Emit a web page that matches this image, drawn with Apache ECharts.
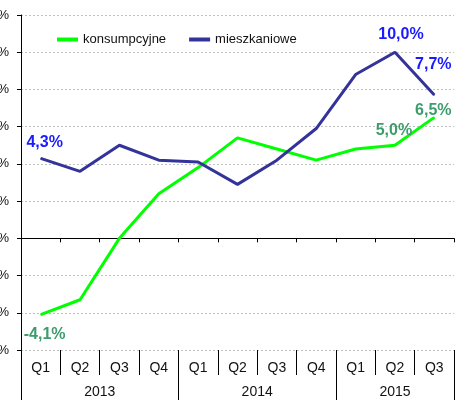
<!DOCTYPE html>
<html>
<head>
<meta charset="utf-8">
<script src="https://cdn.jsdelivr.net/npm/echarts@6/dist/echarts.min.js"></script>
<style>
  html, body { margin: 0; padding: 0; background: #fff; }
  #chart { width: 466px; height: 400px; }
</style>
</head>
<body>
<div id="chart"></div>
<script>
// dane
var kwartaly = ['Q1', 'Q2', 'Q3', 'Q4', 'Q1', 'Q2', 'Q3', 'Q4', 'Q1', 'Q2', 'Q3'];
var lata = ['2013', '2014', '2015'];
var konsumpcyjne = [-4.1, -3.3, 0.0, 2.4, 3.8, 5.4, 4.8, 4.2, 4.8, 5.0, 6.5];
var mieszkaniowe = [4.3, 3.6, 5.0, 4.2, 4.1, 2.9, 4.2, 5.9, 8.8, 10.0, 7.7];

var fmt = function (v) { return v.toFixed(1).replace('.', ',') + '%'; };

// etykiety tylko przy wybranych punktach
function zEtykietami(values, color, labels) {
  return values.map(function (v, i) {
    if (!labels[i]) return v;
    return {
      value: v,
      label: {
        show: true,
        position: labels[i].pos,
        offset: labels[i].off,
        color: color,
        fontWeight: 'bold',
        fontSize: 16,
        fontFamily: 'Liberation Sans, Arial, sans-serif',
        formatter: function (p) { return fmt(p.value); }
      }
    };
  });
}

var myChart = echarts.init(document.getElementById('chart'));
myChart.setOption({
  animation: false,
  textStyle: { fontFamily: 'Liberation Sans, Arial, sans-serif' },
  grid: { left: 21, right: 12, top: 15, bottom: 50, containLabel: false, outerBoundsMode: 'none' },
  legend: {
    left: 52,
    top: 28,
    icon: 'rect',
    itemWidth: 21,
    itemHeight: 4,
    itemGap: 23,
    textStyle: { fontSize: 13, color: '#111' },
    data: ['konsumpcyjne', 'mieszkaniowe']
  },
  xAxis: [
    {
      type: 'category',
      data: kwartaly,
      axisLine: { onZero: true, lineStyle: { color: '#000', width: 1 } },
      axisTick: { show: true, interval: 0, length: 4, lineStyle: { color: '#000' } },
      axisLabel: { show: false },
      splitLine: { show: false }
    },
    {
      type: 'category',
      data: kwartaly,
      position: 'bottom',
      axisLine: { show: false, onZero: false },
      axisTick: { show: true, interval: 0, length: 25, lineStyle: { color: '#000' } },
      axisLabel: { interval: 0, margin: 11, fontSize: 14, color: '#111' },
      splitLine: { show: false }
    },
    {
      type: 'value',
      min: 0,
      max: 11,
      position: 'bottom',
      offset: 25,
      axisLine: { show: false, onZero: false },
      axisTick: { show: true, customValues: [0, 4, 8, 11], length: 25, lineStyle: { color: '#000' } },
      axisLabel: {
        customValues: [2, 6, 9.5],
        margin: 10,
        fontSize: 14,
        color: '#111',
        formatter: function (v) {
          if (v === 2) return lata[0];
          if (v === 6) return lata[1];
          return lata[2];
        }
      },
      splitLine: { show: false }
    }
  ],
  yAxis: {
    type: 'value',
    min: -6,
    max: 12,
    interval: 2,
    axisLine: { show: true, onZero: false, lineStyle: { color: '#000' } },
    axisTick: { show: true, length: 4, lineStyle: { color: '#000' } },
    axisLabel: { margin: 12, fontSize: 13, color: '#111', formatter: '{value}%' },
    splitLine: { show: true, lineStyle: { color: '#c0c0c0', type: [2, 2] } }
  },
  series: [
    {
      name: 'konsumpcyjne',
      type: 'line',
      symbol: 'circle',
      symbolSize: 1,
      color: '#00ff00',
      lineStyle: { width: 3, color: '#00ff00' },
      data: zEtykietami(konsumpcyjne, '#3c9c6c', {
        0: { pos: 'bottom', off: [4, 6] },
        9: { pos: 'top', off: [-1, -1] },
        10: { pos: 'top', off: [-1, 7] }
      })
    },
    {
      name: 'mieszkaniowe',
      type: 'line',
      symbol: 'circle',
      symbolSize: 1,
      color: '#333399',
      lineStyle: { width: 3, color: '#333399' },
      data: zEtykietami(mieszkaniowe, '#1a1aff', {
        0: { pos: 'top', off: [4, -2] },
        9: { pos: 'top', off: [6, -4] },
        10: { pos: 'top', off: [-1, -17] }
      })
    }
  ]
});
</script>
</body>
</html>
